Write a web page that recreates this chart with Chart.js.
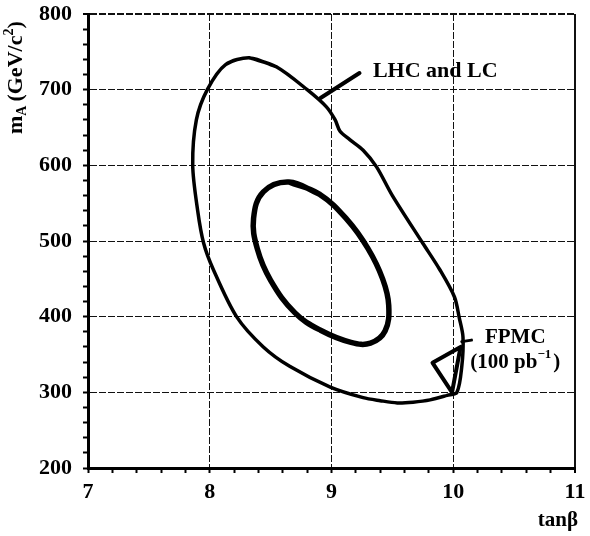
<!DOCTYPE html>
<html>
<head>
<meta charset="utf-8">
<script src="https://cdn.jsdelivr.net/npm/chart.js@4"></script>
<style>
  html, body { margin: 0; padding: 0; background: #fff; }
  canvas { display: block; }
</style>
</head>
<body>
<canvas id="myChart" width="590" height="536"></canvas>
<script>
// tick labels
const xTicks = [7, 8, 9, 10, 11];
const yTicks = [200, 300, 400, 500, 600, 700, 800];

// LHC and LC contour (tan beta, m_A)
const outerTanb = [8.33, 8.55, 8.80, 8.96, 9.03, 9.07, 9.15, 9.26, 9.37, 9.50, 9.75, 9.89, 10.01, 10.05, 10.08, 10.07, 10.03,
  9.95, 9.81, 9.67, 9.54, 9.40, 9.26, 8.99, 8.66, 8.44, 8.22, 8.03, 7.95, 7.90, 7.86, 7.89, 7.98, 8.13];
const outerMass = [742, 730, 700, 677, 660, 645, 634, 620, 598, 560, 497, 462, 426, 398, 373, 334, 300,
  296, 290, 287, 286, 289, 293, 307, 334, 360, 400, 462, 497, 541, 600, 660, 700, 733];

// inner contour
const innerTanb = [8.65, 8.90, 9.13, 9.30, 9.42, 9.47, 9.44, 9.32, 9.16, 8.91, 8.70, 8.50, 8.39, 8.36, 8.44];
const innerMass = [578, 562, 528, 490, 450, 415, 381, 365, 366, 382, 405, 448, 490, 530, 565];

// FPMC (100 pb-1) triangle
const fpmcTanb = [9.83, 10.06, 9.99, 9.83];
const fpmcMass = [339, 360, 300, 339];

// label pointers
const lhcPtrTanb = [8.91, 9.23];
const lhcPtrMass = [689, 722];
const fpmcPtrTanb = [10.07, 10.15];
const fpmcPtrMass = [367, 369];

const pts = (xs, ys) => xs.map((x, i) => ({ x: x, y: ys[i] }));
// closed smooth curve: repeat first two points so the join stays smooth
const closed = (xs, ys) => { const p = pts(xs, ys); return p.concat([p[0], p[1]]); };

const serif = '"Liberation Serif", "Times New Roman", serif';

const data = {
  datasets: [
    { data: closed(outerTanb, outerMass), borderWidth: 3.5, tension: 0.3 },
    { data: closed(innerTanb, innerMass), borderWidth: 5.5, tension: 0.4 },
    { data: pts(fpmcTanb, fpmcMass), borderWidth: 4, tension: 0 },
    { data: pts(lhcPtrTanb, lhcPtrMass), borderWidth: 4, tension: 0 },
    { data: pts(fpmcPtrTanb, fpmcPtrMass), borderWidth: 3, tension: 0 }
  ].map(d => Object.assign({
    showLine: true, pointRadius: 0, borderColor: '#000', fill: false, borderCapStyle: 'round', borderJoinStyle: 'round'
  }, d))
};

const isMajor = (list, v) => list.some(t => Math.abs(t - v) < 1e-6);

// text labels and axis titles
const labelsPlugin = {
  id: 'labels',
  afterDraw(chart) {
    const { ctx, scales: { x, y } } = chart;
    ctx.save();
    ctx.fillStyle = '#000';
    ctx.textBaseline = 'middle';
    ctx.textAlign = 'left';

    ctx.font = 'bold 22px ' + serif;
    ctx.fillText('LHC and LC', x.getPixelForValue(9.34), y.getPixelForValue(724));

    ctx.font = 'bold 21px ' + serif;
    ctx.fillText('FPMC', x.getPixelForValue(10.26), y.getPixelForValue(373));
    let px = x.getPixelForValue(10.14);
    const py = y.getPixelForValue(339);
    ctx.fillText('(100 pb', px, py);
    px += ctx.measureText('(100 pb').width;
    ctx.font = 'bold 13px ' + serif;
    ctx.fillText('\u22121', px, py - 8);
    px += ctx.measureText('\u22121').width;
    ctx.font = 'bold 21px ' + serif;
    ctx.fillText(')', px + 2, py);

    // x title
    ctx.font = 'bold 21px ' + serif;
    ctx.textAlign = 'right';
    ctx.fillText('tan\u03b2', 578, 521);

    // y title, rotated
    ctx.translate(22, 134);
    ctx.rotate(-Math.PI / 2);
    ctx.textAlign = 'left';
    ctx.textBaseline = 'alphabetic';
    ctx.font = 'bold 22px ' + serif;
    let tx = 0;
    ctx.fillText('m', tx, 0);
    tx += ctx.measureText('m').width;
    ctx.font = 'bold 14px ' + serif;
    ctx.fillText('A', tx, 4);
    tx += ctx.measureText('A').width + 4;
    ctx.font = 'bold 22px ' + serif;
    ctx.fillText('(GeV/c', tx, 0);
    tx += ctx.measureText('(GeV/c').width;
    ctx.font = 'bold 14px ' + serif;
    ctx.fillText('2', tx, -9);
    tx += ctx.measureText('2').width;
    ctx.font = 'bold 22px ' + serif;
    ctx.fillText(')', tx, 0);
    ctx.restore();
  }
};

const gridFor = (list, last) => ({
  color: c => (c.tick && isMajor(list, c.tick.value)) ? '#111' : 'rgba(0,0,0,0)',
  lineWidth: c => (c.tick && Math.abs(c.tick.value - last) < 1e-6) ? 2 : 1,
  tickColor: '#000',
  tickLength: 5,
  tickWidth: 2
});

const config = {
  type: 'scatter',
  data,
  options: {
    responsive: false,
    animation: false,
    devicePixelRatio: 1,
    layout: { padding: { top: 14, right: 15, left: 0, bottom: 0 } },
    plugins: { legend: { display: false }, tooltip: { enabled: false } },
    scales: {
      x: {
        type: 'linear', min: 7, max: 11,
        afterBuildTicks: s => {
          const t = [];
          for (let v = 70; v <= 110; v += 2) t.push({ value: v / 10 });
          s.ticks = t;
        },
        afterFit: s => { s.height = 68; s.paddingLeft = 0; s.paddingRight = 0; },
        ticks: {
          autoSkip: false, maxRotation: 0, padding: 6, color: '#000',
          font: { family: serif, size: 22, weight: 'bold' },
          callback: v => isMajor(xTicks, v) ? String(Math.round(v)) : ''
        },
        grid: gridFor(xTicks, 11),
        border: { display: true, color: '#000', width: 3, dash: c => (c.tick && Math.abs(c.tick.value - 11) < 1e-6) ? [] : [7, 2] }
      },
      y: {
        type: 'linear', min: 200, max: 800,
        afterBuildTicks: s => {
          const t = [];
          for (let v = 200; v <= 800; v += 20) t.push({ value: v });
          s.ticks = t;
        },
        afterFit: s => { s.width = 88; s.paddingTop = 0; s.paddingBottom = 0; },
        ticks: {
          autoSkip: false, padding: 11, color: '#000',
          font: { family: serif, size: 22, weight: 'bold' },
          callback: v => isMajor(yTicks, v) ? String(v) : ''
        },
        grid: gridFor(yTicks, 800),
        border: { display: true, color: '#000', width: 3, dash: [7, 2] }
      }
    }
  },
  plugins: [labelsPlugin]
};

// render init block
const myChart = new Chart(document.getElementById('myChart'), config);
</script>
</body>
</html>
